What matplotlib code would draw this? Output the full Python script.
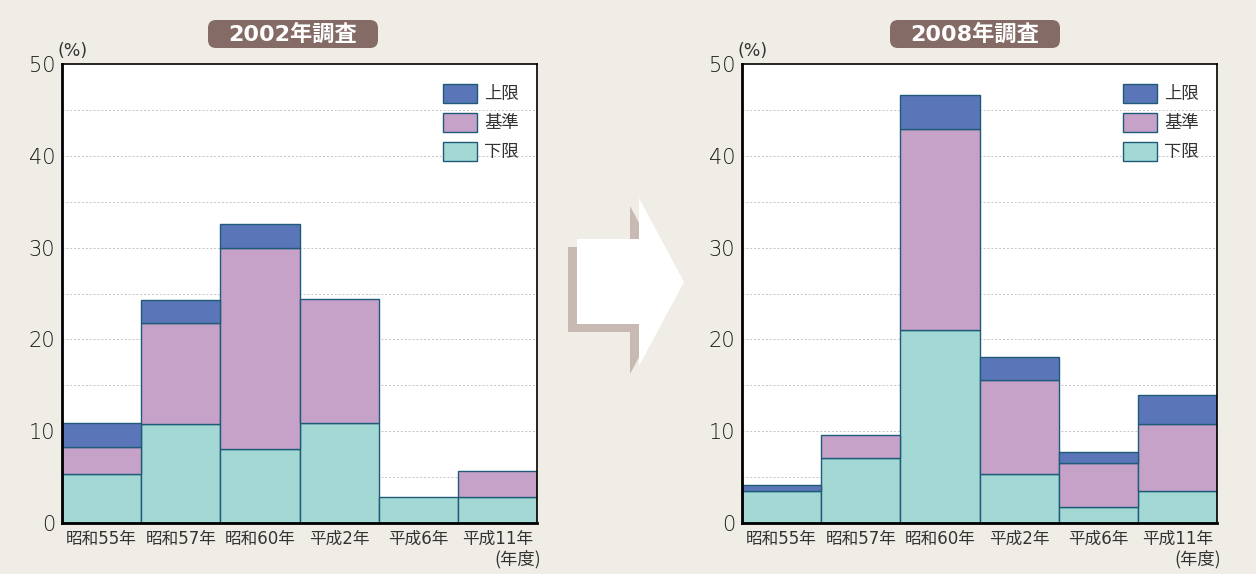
import matplotlib.pyplot as plt
from matplotlib.patches import Polygon, Patch, FancyBboxPatch

plt.rcParams['font.family'] = ['Noto Sans CJK JP', 'DejaVu Sans']
mixed = ['DejaVu Sans', 'Noto Sans CJK JP']

years = ['昭和55年', '昭和57年', '昭和60年', '平成2年', '平成6年', '平成11年']
series = ['上限', '基準', '下限']

# 2002 survey (stack segments, %)
lower_2002 = [5.3, 10.8, 8.1, 10.9, 2.8, 2.8]
base_2002 = [3.0, 11.0, 21.9, 13.5, 0.0, 2.9]
upper_2002 = [2.6, 2.5, 2.6, 0.0, 0.0, 0.0]

# 2008 survey
lower_2008 = [3.5, 7.1, 21.0, 5.3, 1.7, 3.5]
base_2008 = [0.0, 2.5, 21.9, 10.3, 4.8, 7.3]
upper_2008 = [0.6, 0.0, 3.7, 2.5, 1.2, 3.1]

titles = ['2002年調査', '2008年調査']

c_upper = '#5a76b8'
c_base = '#c6a2c9'
c_lower = '#a4d8d4'
c_edge = '#1d5b79'
c_text = '#333333'
bg = '#efede6'

W, H = 1256, 574
fig = plt.figure(figsize=(W / 100, H / 100), dpi=100, facecolor=bg)


def draw_panel(left_px, lower, base, upper):
    ax = fig.add_axes([left_px / W, (H - 523) / H, 475 / W, 459 / H])
    ax.set_facecolor('white')
    x = range(len(years))
    b1 = [l + b for l, b in zip(lower, base)]
    kw = dict(width=1.0, edgecolor=c_edge, linewidth=1.0, zorder=3)
    h_low = ax.bar(x, lower, color=c_lower, **kw)
    h_base = ax.bar(x, base, bottom=lower, color=c_base, **kw)
    h_up = ax.bar(x, upper, bottom=b1, color=c_upper, **kw)
    # hide zero-height segments
    for bars in (h_low, h_base, h_up):
        for p in bars:
            if p.get_height() == 0:
                p.set_visible(False)
    ax.set_xlim(-0.5, len(years) - 0.5)
    ax.set_ylim(0, 50)
    yt = list(range(0, 51, 10))
    ax.set_yticks(yt, labels=[str(v) for v in yt], fontsize=15,
                  fontfamily=mixed, fontweight='light', color='#1a1a1a')
    for g in range(5, 50, 5):
        ax.axhline(g, color='#c4c4c4', linewidth=0.7, linestyle=(0, (2, 2)), zorder=1)
    ax.set_xticks(list(x), labels=years, fontsize=12, fontfamily=mixed,
                  color=c_text)
    ax.tick_params(axis='y', length=0, pad=5)
    ax.tick_params(axis='x', length=0, pad=5)
    for s in ax.spines.values():
        s.set_color('black')
        s.set_linewidth(1.2)
        s.set_zorder(5)
    ax.spines['left'].set_linewidth(2)
    ax.spines['bottom'].set_linewidth(2)
    handles = [Patch(facecolor=c, edgecolor=c_edge, linewidth=1.0)
               for c in (c_upper, c_base, c_lower)]
    ax.legend(handles, series, loc='upper right',
              bbox_to_anchor=(0.995, 0.99), frameon=False, fontsize=12.5,
              handlelength=2.0, handleheight=1.25, handletextpad=0.4,
              labelspacing=0.58, labelcolor=c_text)
    ax.text(-0.01, 1.008, '(%)', transform=ax.transAxes, fontsize=12.5,
            fontfamily=mixed, color=c_text, ha='left', va='bottom')
    ax.text(1.008, -0.058, '(年度)', transform=ax.transAxes, fontsize=12.5,
            color=c_text, ha='right', va='top')
    return ax


draw_panel(62, lower_2002, base_2002, upper_2002)
draw_panel(742, lower_2008, base_2008, upper_2008)

# overlay in pixel coordinates for titles and arrow
ov = fig.add_axes([0, 0, 1, 1])
ov.set_xlim(0, W)
ov.set_ylim(H, 0)
ov.axis('off')
ov.patch.set_visible(False)

for x0, t in zip([208, 890], titles):
    ov.add_patch(FancyBboxPatch((x0, 20), 170, 28,
                                boxstyle='round,pad=0,rounding_size=8',
                                facecolor='#846b66', edgecolor='none'))
    ov.text(x0 + 85, 34.5, t, ha='center', va='center', color='white',
            fontsize=16, fontweight='bold', fontfamily=mixed)

arrow = [(577, 239), (639, 239), (639, 198), (684, 282), (639, 366),
         (639, 324), (577, 324)]
shadow = [(px - 9, py + 8) for px, py in arrow]
ov.add_patch(Polygon(shadow, closed=True, facecolor='#c8bab2', edgecolor='none'))
ov.add_patch(Polygon(arrow, closed=True, facecolor='white', edgecolor='none'))

fig.savefig('out.png', dpi=100, facecolor=bg)
